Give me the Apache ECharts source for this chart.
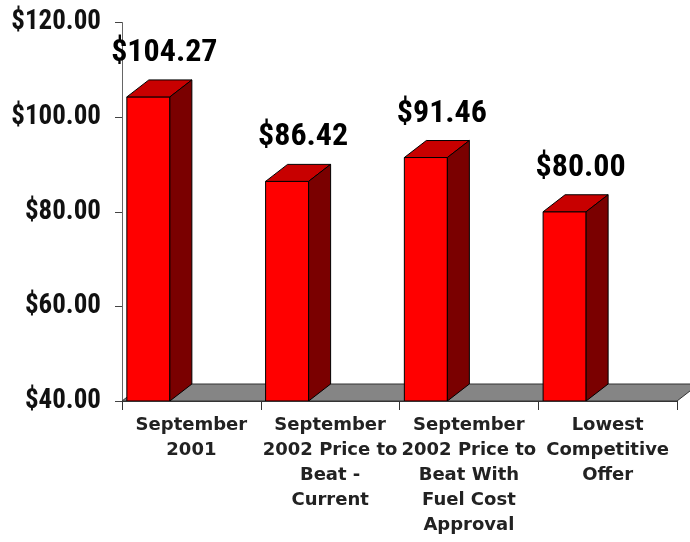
<!DOCTYPE html>
<html>
<head>
<meta charset="utf-8">
<script src="https://cdn.jsdelivr.net/npm/echarts@6/dist/echarts.min.js"></script>
<style>
  html, body { margin: 0; padding: 0; background: #fff; }
  #chart { width: 690px; height: 542px; }
</style>
</head>
<body>
<div id="chart"></div>
<script>
// 类目与数值
const categories = [
  'September\n2001',
  'September\n2002 Price to\nBeat -\nCurrent',
  'September\n2002 Price to\nBeat With\nFuel Cost\nApproval',
  'Lowest\nCompetitive\nOffer'
]
const prices = [104.27, 86.42, 91.46, 80.00]
const yTicks = [40, 60, 80, 100, 120]

const chart = echarts.init(document.getElementById('chart'))

// 3D 效果的纵深偏移（像素）
const DX = 22
const DY = -17
const CONDENSED = '"Roboto Condensed", "Liberation Sans Narrow", sans-serif'

const money = (v) => '$' + Number(v).toFixed(2)

const option = {
  animation: false,
  backgroundColor: '#fff',
  grid: {
    left: 122,
    right: 13,
    top: 22.5,
    bottom: 141,
    outerBoundsMode: 'none'
  },
  xAxis: {
    type: 'category',
    data: categories,
    axisLine: { show: true, lineStyle: { color: '#333', width: 1 } },
    axisTick: { show: true, length: 9, lineStyle: { color: '#333' } },
    axisLabel: {
      interval: 0,
      margin: 12,
      color: '#222',
      fontFamily: '"DejaVu Sans", sans-serif',
      fontWeight: 'bold',
      fontSize: 18,
      lineHeight: 25,
      align: 'center'
    },
    z: 10
  },
  yAxis: {
    type: 'value',
    min: yTicks[0],
    max: yTicks[yTicks.length - 1],
    interval: 20,
    axisLine: { show: true, lineStyle: { color: '#666', width: 1 } },
    axisTick: { show: true, length: 7, lineStyle: { color: '#444' } },
    splitLine: { show: false },
    axisLabel: {
      margin: 21,
      color: '#111',
      fontFamily: CONDENSED,
      fontWeight: 'bold',
      fontSize: 27,
      formatter: money
    }
  },
  series: [
    // 地板
    {
      type: 'custom',
      data: [[0, yTicks[0]]],
      z: 1,
      renderItem(params, api) {
        const bw = api.size([1, 0])[0]
        const left = api.coord([0, yTicks[0]])[0] - bw / 2
        const right = api.coord([categories.length - 1, yTicks[0]])[0] + bw / 2
        const y = api.coord([0, yTicks[0]])[1]
        return {
          type: 'polygon',
          shape: {
            points: [[left, y], [left + DX, y + DY], [right + DX, y + DY], [right, y]]
          },
          style: { fill: '#858585', stroke: '#333', lineWidth: 1 }
        }
      }
    },
    // 柱子
    {
      type: 'custom',
      data: prices.map((v, i) => [i, v]),
      z: 5,
      renderItem(params, api) {
        const idx = api.value(0)
        const val = api.value(1)
        const bw = api.size([1, 0])[0]
        const center = api.coord([idx, val])
        const yTop = center[1]
        const yBase = api.coord([idx, yTicks[0]])[1]
        const w = bw * 0.31
        const x0 = center[0] - bw / 2 + bw * 0.035
        const x1 = x0 + w
        const edge = { stroke: '#000', lineWidth: 1, lineJoin: 'round' }
        return {
          type: 'group',
          children: [
            {
              type: 'polygon',
              shape: { points: [[x0, yTop], [x1, yTop], [x1, yBase], [x0, yBase]] },
              style: Object.assign({ fill: '#ff0000' }, edge)
            },
            {
              type: 'polygon',
              shape: { points: [[x0, yTop], [x0 + DX, yTop + DY], [x1 + DX, yTop + DY], [x1, yTop]] },
              style: Object.assign({ fill: '#c80000' }, edge)
            },
            {
              type: 'polygon',
              shape: { points: [[x1, yTop], [x1 + DX, yTop + DY], [x1 + DX, yBase + DY], [x1, yBase]] },
              style: Object.assign({ fill: '#7a0000' }, edge)
            },
            {
              type: 'text',
              style: {
                x: x0 + w / 2 + 16,
                y: yTop - 44,
                text: money(val),
                fill: '#000',
                font: 'bold 32px ' + CONDENSED,
                align: 'center',
                verticalAlign: 'middle'
              }
            }
          ]
        }
      }
    }
  ]
}

chart.setOption(option)
</script>
</body>
</html>
